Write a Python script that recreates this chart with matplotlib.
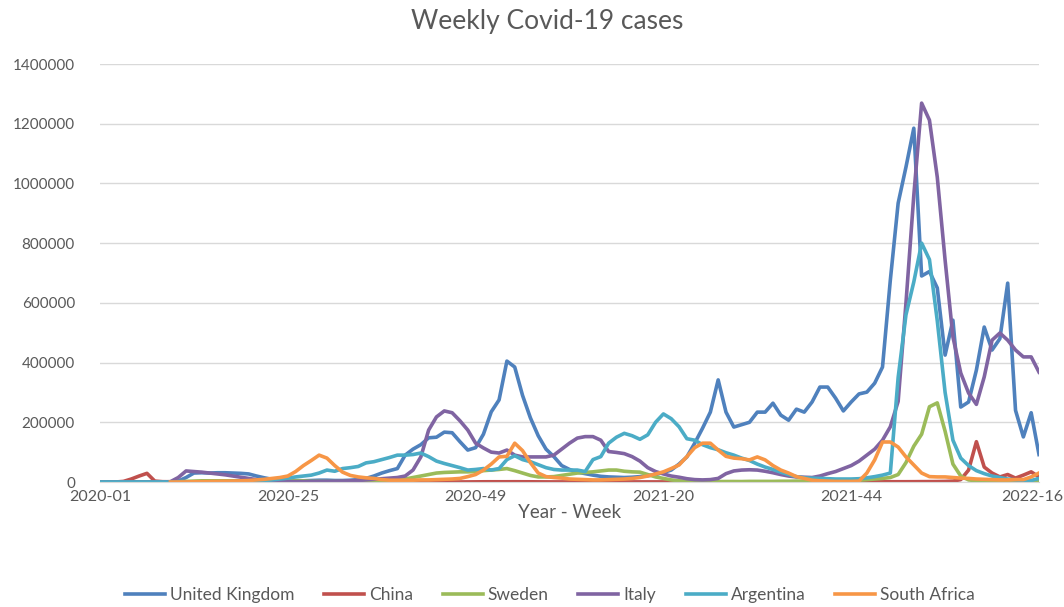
import matplotlib
matplotlib.use('Agg')
import matplotlib.pyplot as plt
from matplotlib.transforms import ScaledTranslation
import numpy as np

plt.rcParams['font.family'] = ['Lato', 'DejaVu Sans']

# --- data (weekly cases) ---
years = [2020, 2021, 2022]
weeks_per_year = [53, 52, 16]
weeks = [f"{y}-{w:02d}" for y, n in zip(years, weeks_per_year) for w in range(1, n + 1)]
tick_labels = ["2020-01", "2020-25", "2020-49", "2021-20", "2021-44", "2022-16"]

united_kingdom = [
    0, 0, 0, 0, 0, 0, 0, 0, 0, 500,
    3000, 15000, 30000, 31000, 30000, 31000, 31000, 30000, 29000, 27000,
    20000, 14000, 9000, 6000, 5000, 4000, 4000, 5000, 6000, 6000,
    5000, 5000, 6000, 8000, 12000, 20000, 30000, 38000, 45000, 90000,
    110000, 125000, 148000, 150000, 167000, 165000, 135000, 107000, 115000, 160000,
    235000, 275000, 405000, 385000, 290000, 215000, 155000, 110000, 85000, 55000,
    42000, 33000, 28000, 23000, 19000, 17000, 16000, 15000, 16000, 18000,
    21000, 25000, 32000, 40000, 60000, 84000, 130000, 180000, 234000, 342000,
    234000, 184000, 192000, 200000, 234000, 234000, 264000, 224000, 207000, 244000,
    234000, 268000, 318000, 318000, 281000, 238000, 268000, 295000, 301000, 331000,
    385000, 676000, 934000, 1055000, 1185000, 690000, 705000, 650000, 425000, 542000,
    251000, 268000, 375000, 519000, 442000, 480000, 666000, 240000, 151000, 232000, 92000,
]

china = [
    0, 0, 0, 2000, 10000, 20000, 29000, 3000, 1000, 800,
    600, 500, 400, 400, 300, 300, 200, 200, 200, 200,
    200, 150, 150, 150, 200, 300, 300, 300, 300, 300,
    300, 300, 200, 200, 200, 200, 200, 200, 200, 200,
    200, 200, 200, 200, 200, 200, 200, 300, 500, 700,
    800, 800, 800, 900, 800, 700, 500, 400, 300, 300,
    300, 300, 300, 300, 300, 300, 300, 300, 300, 300,
    300, 300, 300, 300, 300, 500, 600, 500, 500, 500,
    700, 800, 600, 500, 500, 500, 400, 400, 500, 500,
    600, 600, 600, 600, 700, 700, 800, 900, 1000, 1000,
    1000, 900, 900, 900, 1000, 1200, 1300, 1500, 2000, 3000,
    8000, 40000, 135000, 50000, 30000, 17000, 25000, 13000, 23000, 34000, 17000,
]

sweden = [
    0, 0, 0, 0, 0, 0, 0, 0, 0, 500,
    1000, 2000, 3000, 4000, 4000, 4000, 4000, 4000, 4000, 4000,
    5000, 6000, 7000, 7000, 6000, 5000, 4000, 2000, 2000, 1500,
    1500, 1500, 1500, 2000, 2000, 3000, 3000, 4000, 6000, 10000,
    15000, 20000, 25000, 30000, 32000, 33000, 34000, 34000, 35000, 38000,
    40000, 42000, 45000, 38000, 30000, 22000, 17000, 17000, 18000, 22000,
    26000, 30000, 32000, 34000, 37000, 40000, 40000, 36000, 34000, 33000,
    25000, 17000, 12000, 7000, 4000, 3000, 2000, 1500, 1500, 1500,
    1500, 1500, 1500, 2000, 2000, 2000, 2000, 2500, 2500, 3000,
    3000, 3000, 3000, 3000, 3500, 4000, 4000, 6000, 8000, 10000,
    12000, 15000, 25000, 65000, 120000, 160000, 252000, 265000, 170000, 60000,
    20000, 7000, 4000, 3000, 2500, 2000, 2000, 1500, 1500, 1500, 1500,
]

italy = [
    0, 0, 0, 0, 0, 0, 0, 0, 100, 1000,
    15000, 37000, 35000, 33000, 30000, 27000, 24000, 20000, 16000, 12000,
    8000, 5000, 3000, 2000, 1500, 1500, 1500, 1500, 1800, 2000,
    2500, 3000, 4000, 5000, 7000, 9000, 11000, 13000, 15000, 20000,
    40000, 84000, 174000, 218000, 238000, 232000, 205000, 174000, 130000, 114000,
    100000, 97000, 107000, 90000, 84000, 84000, 84000, 84000, 90000, 110000,
    130000, 147000, 152000, 152000, 140000, 102000, 99000, 95000, 85000, 70000,
    48000, 35000, 27000, 20000, 16000, 11000, 8000, 7000, 8000, 12000,
    28000, 37000, 40000, 41000, 40000, 36000, 31000, 25000, 20000, 17000,
    16000, 15000, 20000, 28000, 35000, 45000, 55000, 70000, 90000, 110000,
    140000, 185000, 270000, 600000, 960000, 1269000, 1212000, 1021000, 743000, 486000,
    365000, 298000, 260000, 352000, 475000, 499000, 475000, 442000, 419000, 419000, 368000,
]

argentina = [
    0, 0, 0, 0, 0, 0, 0, 0, 0, 0,
    100, 200, 300, 500, 500, 700, 800, 1000, 1500, 2000,
    3000, 5000, 7000, 10000, 13000, 17000, 20000, 23000, 30000, 40000,
    36000, 45000, 48000, 52000, 64000, 68000, 75000, 82000, 90000, 90000,
    92000, 97000, 85000, 70000, 62000, 55000, 48000, 40000, 42000, 45000,
    40000, 45000, 75000, 88000, 75000, 68000, 58000, 48000, 42000, 40000,
    40000, 40000, 35000, 75000, 85000, 130000, 150000, 163000, 155000, 143000,
    158000, 200000, 228000, 212000, 185000, 145000, 140000, 125000, 115000, 108000,
    98000, 90000, 80000, 72000, 60000, 50000, 42000, 33000, 25000, 18000,
    14000, 13000, 12000, 11000, 10000, 10000, 10000, 11000, 14000, 18000,
    23000, 30000, 350000, 560000, 670000, 800000, 745000, 540000, 300000, 140000,
    80000, 55000, 38000, 28000, 20000, 15000, 10000, 7000, 4000, 5000, 12000,
]

south_africa = [
    np.nan, np.nan, np.nan, np.nan, np.nan, np.nan, np.nan, np.nan, np.nan, 0,
    100, 300, 800, 1000, 1500, 2000, 2500, 3000, 4000, 5000,
    7000, 9000, 12000, 15000, 20000, 35000, 55000, 72000, 90000, 80000,
    55000, 33000, 22000, 17000, 14000, 12000, 8000, 6000, 6000, 6000,
    6000, 7000, 7000, 8000, 9000, 10000, 12000, 18000, 25000, 40000,
    60000, 84000, 86000, 130000, 105000, 65000, 30000, 18000, 15000, 13000,
    10000, 9000, 8000, 7000, 7000, 8000, 9000, 10000, 12000, 15000,
    20000, 27000, 34000, 45000, 57000, 85000, 115000, 130000, 130000, 107000,
    86000, 80000, 78000, 74000, 84000, 74000, 55000, 40000, 30000, 18000,
    12000, 6000, 4000, 3000, 2000, 2000, 2000, 3000, 30000, 74000,
    134000, 134000, 117000, 84000, 57000, 30000, 18000, 17000, 17000, 15000,
    13000, 12000, 10000, 9000, 8000, 7000, 7000, 8000, 8000, 17000, 30000,
]

series = [
    ("United Kingdom", united_kingdom, "#4F81BD"),
    ("China", china, "#C0504D"),
    ("Sweden", sweden, "#9BBB59"),
    ("Italy", italy, "#8064A2"),
    ("Argentina", argentina, "#4BACC6"),
    ("South Africa", south_africa, "#F79646"),
]

GREY = "#595959"

fig = plt.figure(figsize=(10.64, 6.07), dpi=100)
ax = fig.add_axes([100 / 1064, 125 / 607, 939 / 1064, 418 / 607])

x = np.arange(len(weeks))
handles = []
for name, vals, col in series:
    h, = ax.plot(x, vals, color=col, lw=2.6, solid_joinstyle='round', label=name)
    handles.append(h)

ax.set_xlim(0, len(weeks) - 1)
ax.set_ylim(0, 1400000)
yt = np.arange(0, 1400001, 200000)
ax.set_yticks(yt)
ax.set_yticklabels([str(v) for v in yt])
ax.set_xticks([weeks.index(t) for t in tick_labels])
ax.set_xticklabels(tick_labels)

ax.yaxis.grid(True, color='#D9D9D9', lw=1)
ax.set_axisbelow(True)
for s in ['top', 'right', 'left']:
    ax.spines[s].set_visible(False)
ax.spines['bottom'].set_color('#D9D9D9')
ax.tick_params(length=0, colors=GREY, labelsize=11)
ax.tick_params(axis='x', labelsize=11.5, pad=6)
ax.tick_params(axis='y', pad=18)

# last x label sits a bit left so it stays inside the chart
last = ax.get_xticklabels()[-1]
last.set_transform(last.get_transform() + ScaledTranslation(-0.07, 0, fig.dpi_scale_trans))

fig.text(547 / 1064, 1 - 21 / 607, "Weekly Covid-19 cases", ha='center', va='center',
         fontsize=19, color=GREY)
fig.text(570 / 1064, 1 - 513 / 607, "Year - Week", ha='center', va='center',
         fontsize=13.5, color=GREY)

fig.legend(handles=handles, loc='center', bbox_to_anchor=(550 / 1064, 1 - 595 / 607),
           ncol=6, frameon=False, handlelength=2.3, columnspacing=1.7,
           handletextpad=0.3, fontsize=12.5, labelcolor=GREY)

fig.savefig("out.png", dpi=100)
